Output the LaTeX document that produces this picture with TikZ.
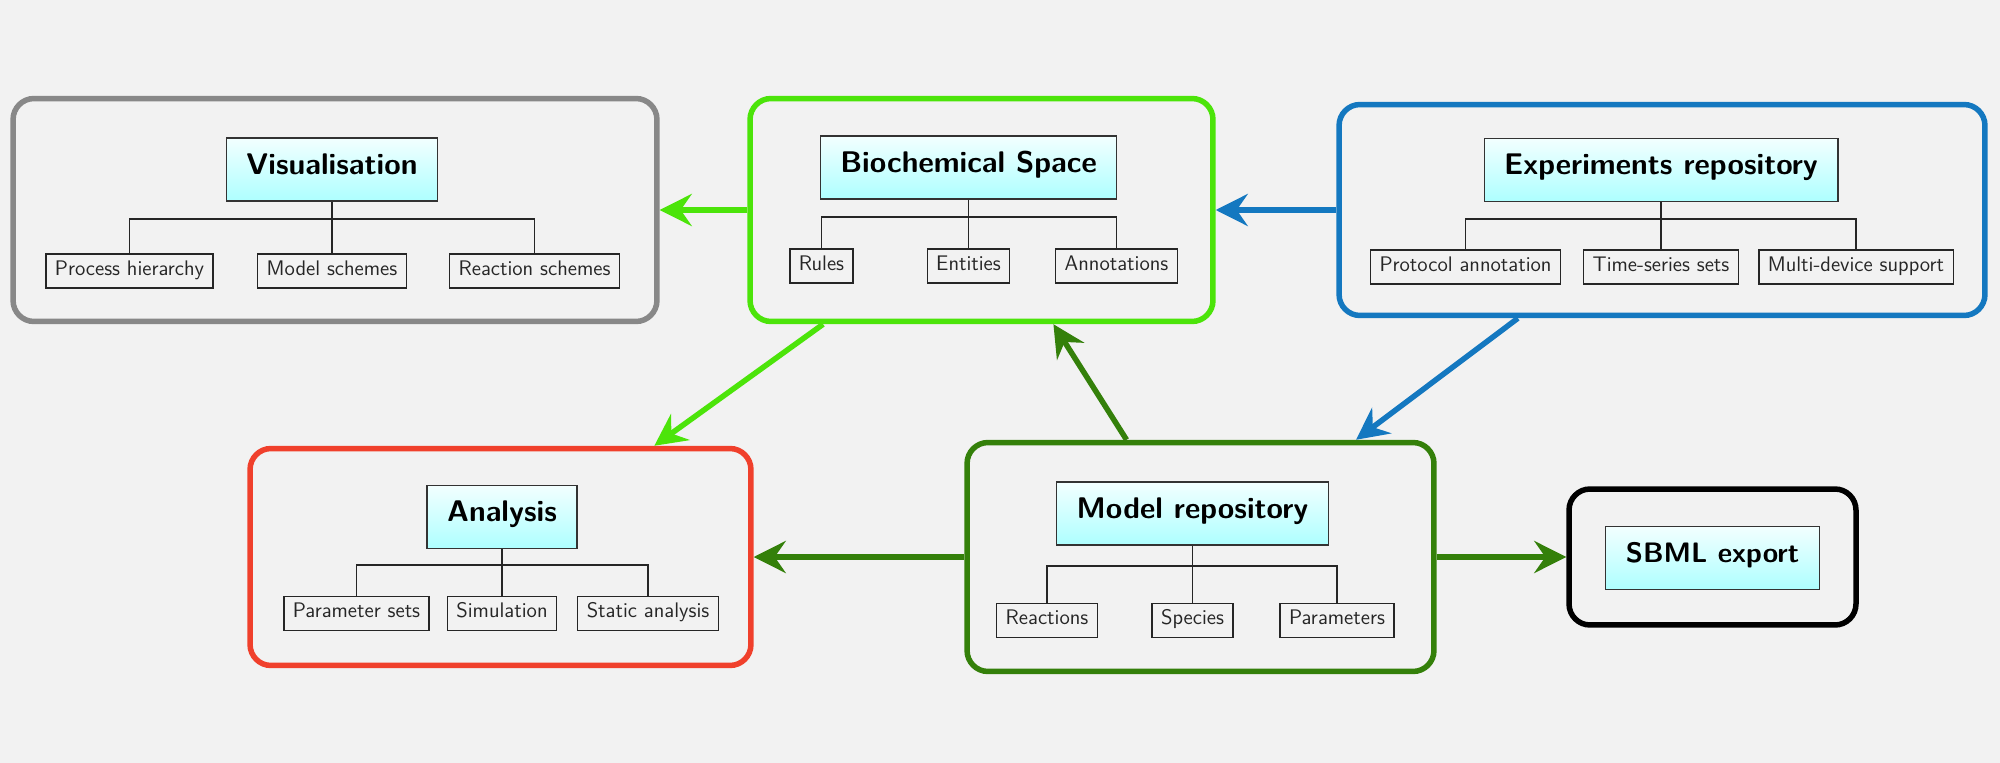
\documentclass[tikz,border=0pt]{standalone}
\usetikzlibrary{arrows.meta}
\definecolor{bgc}{RGB}{242,242,242}
\definecolor{visgray}{RGB}{136,136,136}
\definecolor{bsgreen}{RGB}{76,228,10}
\definecolor{erblue}{RGB}{20,120,192}
\definecolor{anred}{RGB}{240,64,44}
\definecolor{mrgreen}{RGB}{52,128,10}
\begin{document}
\begin{tikzpicture}[x=0.02cm,y=-0.02cm,
  outerbox/.style={draw, line width=0.11cm, rounded corners=0.42cm, inner sep=0pt},
  titlebox/.style={draw=black!80, line width=0.026cm, top color=cyan!5, bottom color=cyan!32,
    font=\sffamily\bfseries\fontsize{17}{20}\selectfont, inner xsep=0.4cm, inner ysep=0pt,
    minimum height=1.26cm, text height=0.72em, text depth=0.2em},
  childbox/.style={draw=black!85, line width=0.026cm, fill=bgc, text=black!85,
    font=\sffamily\fontsize{12}{14}\selectfont, inner xsep=0.18cm, inner ysep=0pt,
    minimum height=0.68cm, text height=0.72em, text depth=0.22em},
  treeline/.style={line width=0.026cm, draw=black!85},
  arr/.style={line width=0.11cm, -{Stealth[length=0.64cm,width=0.64cm,inset=0.22cm]}}
]
\useasboundingbox (0,0) rectangle (2000,763);
\fill[bgc] (0,0) rectangle (2000,763);

% outer boxes
\node[outerbox, draw=visgray, minimum width=12.88cm, minimum height=4.46cm] (vis) at (335,210) {};
\node[outerbox, draw=bsgreen, minimum width=9.26cm, minimum height=4.46cm] (bs) at (981.5,210) {};
\node[outerbox, draw=erblue, minimum width=12.92cm, minimum height=4.22cm] (er) at (1662,210) {};
\node[outerbox, draw=anred, minimum width=10.02cm, minimum height=4.34cm] (an) at (500.5,557) {};
\node[outerbox, draw=mrgreen, minimum width=9.34cm, minimum height=4.58cm] (mr) at (1200.5,557) {};
\node[outerbox, draw=black, minimum width=5.74cm, minimum height=2.72cm] (sb) at (1712.5,557) {};

% Visualisation
\node[titlebox] (vist) at (332,169.5) {Visualisation};
\node[childbox] (visa) at (129.5,271) {Process hierarchy};
\node[childbox] (visb) at (332,271) {Model schemes};
\node[childbox] (visc) at (534.5,271) {Reaction schemes};
\coordinate (visbar) at (332,219);
\draw[treeline] (vist.south) -- (visbar);
\draw[treeline] (visbar) -| (visa.north);
\draw[treeline] (visbar) -- (visb.north);
\draw[treeline] (visbar) -| (visc.north);

% Biochemical Space
\node[titlebox] (bst) at (968.5,167.5) {Biochemical Space};
\node[childbox] (bsa) at (821.5,266) {Rules};
\node[childbox] (bsb) at (968.5,266) {Entities};
\node[childbox] (bsc) at (1116.5,266) {Annotations};
\coordinate (bsbar) at (968.5,217);
\draw[treeline] (bst.south) -- (bsbar);
\draw[treeline] (bsbar) -| (bsa.north);
\draw[treeline] (bsbar) -- (bsb.north);
\draw[treeline] (bsbar) -| (bsc.north);

% Experiments repository
\node[titlebox] (ert) at (1661,170) {Experiments repository};
\node[childbox] (era) at (1465.5,267) {Protocol annotation};
\node[childbox] (erb) at (1661,267) {Time-series sets};
\node[childbox] (erc) at (1856,267) {Multi-device support};
\coordinate (erbar) at (1661,219);
\draw[treeline] (ert.south) -- (erbar);
\draw[treeline] (erbar) -| (era.north);
\draw[treeline] (erbar) -- (erb.north);
\draw[treeline] (erbar) -| (erc.north);

% Analysis
\node[titlebox] (ant) at (502,517) {Analysis};
\node[childbox] (ana) at (356.5,613.5) {Parameter sets};
\node[childbox] (anb) at (502,613.5) {Simulation};
\node[childbox] (anc) at (648,613.5) {Static analysis};
\coordinate (anbar) at (502,565);
\draw[treeline] (ant.south) -- (anbar);
\draw[treeline] (anbar) -| (ana.north);
\draw[treeline] (anbar) -- (anb.north);
\draw[treeline] (anbar) -| (anc.north);

% Model repository
\node[titlebox] (mrt) at (1192.5,513.5) {Model repository};
\node[childbox] (mra) at (1047,620.5) {Reactions};
\node[childbox] (mrb) at (1192.5,620.5) {Species};
\node[childbox] (mrc) at (1337,620.5) {Parameters};
\coordinate (mrbar) at (1192.5,566);
\draw[treeline] (mrt.south) -- (mrbar);
\draw[treeline] (mrbar) -| (mra.north);
\draw[treeline] (mrbar) -- (mrb.north);
\draw[treeline] (mrbar) -| (mrc.north);

% SBML export
\node[titlebox, font=\sffamily\bfseries\fontsize{16}{19}\selectfont] (sbt) at (1712.5,558) {SBML export};

% arrows
\draw[arr, bsgreen] (bs) -- (vis);
\draw[arr, erblue] (er) -- (bs);
\draw[arr, bsgreen] (bs) -- (an);
\draw[arr, erblue] (er) -- (mr);
\draw[arr, mrgreen] (mr) -- (bs);
\draw[arr, mrgreen] (mr) -- (an);
\draw[arr, mrgreen] (mr) -- (sb);
\end{tikzpicture}
\end{document}
